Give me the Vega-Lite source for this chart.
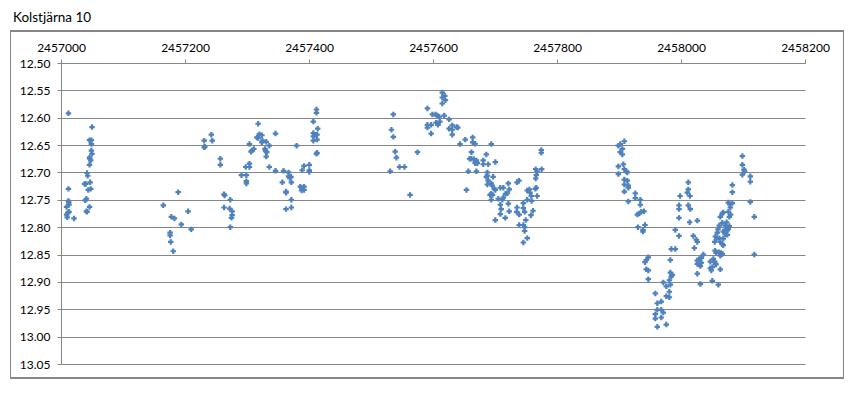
{
  "$schema": "https://vega.github.io/schema/vega-lite/v6.json",
  "width": 744,
  "height": 301,
  "autosize": "none",
  "padding": {"left": 61, "top": 63, "right": 53, "bottom": 31},
  "background": "white",
  "config": {"view": {"stroke": null}, "font": "Lato"},
  "title": {"text": "Kolstjärna 10", "anchor": "start", "frame": "group", "dx": -48, "offset": 6, "fontSize": 13.5, "fontWeight": "normal", "color": "#000000", "font": "Lato"},
  "data": {"values": [
    {"jd":2457012,"mag":12.592},{"jd":2457012,"mag":12.730},{"jd":2457012,"mag":12.752},{"jd":2457012.5,"mag":12.755},{"jd":2457013,"mag":12.759},{"jd":2457009,"mag":12.763},{"jd":2457013,"mag":12.772},{"jd":2457011,"mag":12.774},{"jd":2457009,"mag":12.777},{"jd":2457010,"mag":12.782},{"jd":2457021,"mag":12.784},
    {"jd":2457050,"mag":12.617},{"jd":2457046,"mag":12.641},{"jd":2457049,"mag":12.641},{"jd":2457049,"mag":12.648},{"jd":2457049,"mag":12.660},{"jd":2457050,"mag":12.666},{"jd":2457046,"mag":12.673},{"jd":2457048,"mag":12.678},{"jd":2457046.5,"mag":12.675},{"jd":2457046,"mag":12.686},{"jd":2457042,"mag":12.701},{"jd":2457043,"mag":12.706},{"jd":2457047,"mag":12.718},{"jd":2457038,"mag":12.721},{"jd":2457040,"mag":12.721},{"jd":2457048,"mag":12.730},{"jd":2457044,"mag":12.732},{"jd":2457041,"mag":12.748},{"jd":2457039,"mag":12.751},{"jd":2457046,"mag":12.763},{"jd":2457041,"mag":12.771},{"jd":2457042,"mag":12.772},
    {"jd":2457165,"mag":12.760},{"jd":2457189,"mag":12.736},{"jd":2457178,"mag":12.781},{"jd":2457183,"mag":12.784},{"jd":2457176,"mag":12.810},{"jd":2457176,"mag":12.815},{"jd":2457177,"mag":12.827},{"jd":2457181,"mag":12.844},{"jd":2457194,"mag":12.795},{"jd":2457205,"mag":12.771},{"jd":2457210,"mag":12.804},
    {"jd":2457231,"mag":12.642},{"jd":2457244,"mag":12.642},{"jd":2457242.5,"mag":12.631},{"jd":2457232,"mag":12.653},{"jd":2457231,"mag":12.654},{"jd":2457257,"mag":12.675},{"jd":2457257,"mag":12.686},{"jd":2457263,"mag":12.740},{"jd":2457264,"mag":12.742},{"jd":2457273,"mag":12.750},{"jd":2457263,"mag":12.764},{"jd":2457272,"mag":12.766},{"jd":2457276,"mag":12.771},{"jd":2457276,"mag":12.778},{"jd":2457275,"mag":12.783},{"jd":2457273,"mag":12.800},
    {"jd":2457291,"mag":12.705},{"jd":2457299,"mag":12.705},{"jd":2457299,"mag":12.716},{"jd":2457299,"mag":12.720},{"jd":2457298,"mag":12.690},{"jd":2457304,"mag":12.690},{"jd":2457304,"mag":12.684},{"jd":2457304,"mag":12.648},{"jd":2457306.5,"mag":12.662},{"jd":2457308,"mag":12.660},{"jd":2457311,"mag":12.657},{"jd":2457318,"mag":12.611},{"jd":2457316,"mag":12.636},{"jd":2457320,"mag":12.630},{"jd":2457318,"mag":12.637},{"jd":2457324,"mag":12.632},{"jd":2457325,"mag":12.642},{"jd":2457324,"mag":12.645},{"jd":2457331,"mag":12.644},{"jd":2457329,"mag":12.657},{"jd":2457330,"mag":12.661},{"jd":2457332,"mag":12.663},{"jd":2457331,"mag":12.671},{"jd":2457336,"mag":12.651},{"jd":2457336,"mag":12.690},{"jd":2457346,"mag":12.629},{"jd":2457346,"mag":12.697},{"jd":2457359,"mag":12.697},{"jd":2457357,"mag":12.718},{"jd":2457363,"mag":12.735},{"jd":2457363,"mag":12.737},{"jd":2457363,"mag":12.767},{"jd":2457367,"mag":12.700},{"jd":2457367,"mag":12.707},{"jd":2457369,"mag":12.710},{"jd":2457371,"mag":12.708},{"jd":2457371.5,"mag":12.718},{"jd":2457371.5,"mag":12.750},{"jd":2457371.5,"mag":12.764},{"jd":2457380,"mag":12.651},{"jd":2457386,"mag":12.726},{"jd":2457389,"mag":12.729},{"jd":2457392,"mag":12.732},{"jd":2457388,"mag":12.733},{"jd":2457392,"mag":12.726},{"jd":2457389,"mag":12.696},{"jd":2457392,"mag":12.688},{"jd":2457400.5,"mag":12.686},{"jd":2457400.5,"mag":12.696},{"jd":2457400.5,"mag":12.699},{"jd":2457407,"mag":12.607},{"jd":2457412,"mag":12.585},{"jd":2457412,"mag":12.591},{"jd":2457407,"mag":12.628},{"jd":2457410,"mag":12.631},{"jd":2457413,"mag":12.631},{"jd":2457414,"mag":12.620},{"jd":2457407,"mag":12.634},{"jd":2457407,"mag":12.642},{"jd":2457413,"mag":12.640},{"jd":2457412,"mag":12.666},{"jd":2457413,"mag":12.664},
    {"jd":2457536,"mag":12.594},{"jd":2457533,"mag":12.622},{"jd":2457536,"mag":12.635},{"jd":2457539,"mag":12.662},{"jd":2457541,"mag":12.673},{"jd":2457546,"mag":12.690},{"jd":2457554,"mag":12.690},{"jd":2457531,"mag":12.698},{"jd":2457575,"mag":12.663},{"jd":2457563,"mag":12.741},{"jd":2457591,"mag":12.583},{"jd":2457599,"mag":12.594},{"jd":2457604,"mag":12.594},{"jd":2457607,"mag":12.596},{"jd":2457610,"mag":12.598},{"jd":2457618,"mag":12.596},{"jd":2457615,"mag":12.554},{"jd":2457619,"mag":12.560},{"jd":2457615,"mag":12.563},{"jd":2457620,"mag":12.568},{"jd":2457615,"mag":12.574},{"jd":2457591,"mag":12.613},{"jd":2457591,"mag":12.618},{"jd":2457597,"mag":12.613},{"jd":2457597,"mag":12.629},{"jd":2457605,"mag":12.609},{"jd":2457608,"mag":12.613},{"jd":2457611,"mag":12.607},{"jd":2457626,"mag":12.603},{"jd":2457626,"mag":12.620},{"jd":2457631,"mag":12.614},{"jd":2457631,"mag":12.622},{"jd":2457631,"mag":12.631},{"jd":2457638,"mag":12.617},{"jd":2457640,"mag":12.618},{"jd":2457643.5,"mag":12.648},{"jd":2457652,"mag":12.640},{"jd":2457664,"mag":12.636},{"jd":2457664,"mag":12.645},{"jd":2457662,"mag":12.663},{"jd":2457659,"mag":12.675},{"jd":2457662,"mag":12.675},{"jd":2457666,"mag":12.676},{"jd":2457657,"mag":12.698},{"jd":2457654,"mag":12.732},
    {"jd":2457668,"mag":12.6475},{"jd":2457670,"mag":12.681},{"jd":2457671.5,"mag":12.683},{"jd":2457668,"mag":12.683},{"jd":2457670,"mag":12.678},{"jd":2457681,"mag":12.678},{"jd":2457681,"mag":12.685},{"jd":2457689,"mag":12.685},{"jd":2457686,"mag":12.667},{"jd":2457694,"mag":12.648},{"jd":2457700.5,"mag":12.681},{"jd":2457670,"mag":12.698},{"jd":2457687.6,"mag":12.700},{"jd":2457687.6,"mag":12.706},{"jd":2457686,"mag":12.708},{"jd":2457697,"mag":12.708},{"jd":2457689,"mag":12.715},{"jd":2457687.6,"mag":12.722},{"jd":2457694,"mag":12.720},{"jd":2457695.5,"mag":12.724},{"jd":2457699,"mag":12.730},{"jd":2457694,"mag":12.739},{"jd":2457692,"mag":12.741},{"jd":2457696,"mag":12.741},{"jd":2457694,"mag":12.750},{"jd":2457700.5,"mag":12.732},{"jd":2457708.6,"mag":12.728},{"jd":2457713.5,"mag":12.728},{"jd":2457721.5,"mag":12.720},{"jd":2457723,"mag":12.731},{"jd":2457720,"mag":12.738},{"jd":2457717,"mag":12.739},{"jd":2457713.5,"mag":12.746},{"jd":2457705.3,"mag":12.748},{"jd":2457711.8,"mag":12.750},{"jd":2457708.6,"mag":12.759},{"jd":2457710,"mag":12.767},{"jd":2457721.5,"mag":12.757},{"jd":2457723,"mag":12.771},{"jd":2457708.6,"mag":12.776},{"jd":2457716.6,"mag":12.783},{"jd":2457700.5,"mag":12.787},{"jd":2457735.5,"mag":12.718},{"jd":2457738.7,"mag":12.715},{"jd":2457735.5,"mag":12.764},{"jd":2457735,"mag":12.772},{"jd":2457739,"mag":12.777},{"jd":2457745.7,"mag":12.756},{"jd":2457745.7,"mag":12.765},{"jd":2457747.8,"mag":12.772},{"jd":2457752,"mag":12.733},{"jd":2457755.4,"mag":12.731},{"jd":2457758.6,"mag":12.743},{"jd":2457759,"mag":12.752},{"jd":2457756.5,"mag":12.737},{"jd":2457765,"mag":12.730},{"jd":2457766.6,"mag":12.728},{"jd":2457768,"mag":12.743},{"jd":2457761.3,"mag":12.770},{"jd":2457758,"mag":12.778},{"jd":2457752,"mag":12.750},{"jd":2457739,"mag":12.796},{"jd":2457745.7,"mag":12.796},{"jd":2457749.6,"mag":12.787},{"jd":2457747.8,"mag":12.800},{"jd":2457747.8,"mag":12.807},{"jd":2457752,"mag":12.820},{"jd":2457745.7,"mag":12.828},{"jd":2457765.6,"mag":12.694},{"jd":2457766.6,"mag":12.705},{"jd":2457765.6,"mag":12.711},{"jd":2457768,"mag":12.698},{"jd":2457774.7,"mag":12.659},{"jd":2457774.7,"mag":12.664},{"jd":2457775.3,"mag":12.694},
    {"jd":2457908.6,"mag":12.643},{"jd":2457899,"mag":12.651},{"jd":2457902,"mag":12.648},{"jd":2457905.4,"mag":12.657},{"jd":2457902,"mag":12.663},{"jd":2457905.4,"mag":12.667},{"jd":2457899,"mag":12.689},{"jd":2457907,"mag":12.685},{"jd":2457899,"mag":12.703},{"jd":2457908.6,"mag":12.694},{"jd":2457911.8,"mag":12.698},{"jd":2457913.4,"mag":12.700},{"jd":2457908.6,"mag":12.713},{"jd":2457913.4,"mag":12.715},{"jd":2457908.6,"mag":12.722},{"jd":2457915,"mag":12.724},{"jd":2457915,"mag":12.728},{"jd":2457908.6,"mag":12.735},{"jd":2457915,"mag":12.753},{"jd":2457926.3,"mag":12.738},{"jd":2457926.3,"mag":12.747},{"jd":2457934.4,"mag":12.750},{"jd":2457934.4,"mag":12.759},{"jd":2457929.6,"mag":12.777},{"jd":2457932.8,"mag":12.775},{"jd":2457936,"mag":12.772},{"jd":2457940.3,"mag":12.771},{"jd":2457941.9,"mag":12.796},{"jd":2457930.6,"mag":12.800},{"jd":2457938.7,"mag":12.805},{"jd":2457938.7,"mag":12.808},{"jd":2457947.3,"mag":12.855},{"jd":2457944,"mag":12.860},{"jd":2457941.9,"mag":12.864},{"jd":2457944,"mag":12.877},{"jd":2457947.3,"mag":12.879},{"jd":2457947.3,"mag":12.895},{"jd":2457958.6,"mag":12.921},{"jd":2457961.8,"mag":12.939},{"jd":2457968.2,"mag":12.936},{"jd":2457961.8,"mag":12.951},{"jd":2457968.2,"mag":12.951},{"jd":2457971.5,"mag":12.956},{"jd":2457958.6,"mag":12.959},{"jd":2457958.6,"mag":12.967},{"jd":2457968.2,"mag":12.965},{"jd":2457961.8,"mag":12.982},{"jd":2457976.3,"mag":12.978},{"jd":2457976.3,"mag":12.908},{"jd":2457971.5,"mag":12.901},{"jd":2457976.3,"mag":12.926},{"jd":2457981.2,"mag":12.928},{"jd":2457981.2,"mag":12.918},{"jd":2457982.8,"mag":12.905},{"jd":2457981.2,"mag":12.897},{"jd":2457984.4,"mag":12.890},{"jd":2457986,"mag":12.887},{"jd":2457982.8,"mag":12.883},{"jd":2457982.8,"mag":12.860},{"jd":2457984.4,"mag":12.840},{"jd":2457990.8,"mag":12.840},{"jd":2457990.8,"mag":12.805},{"jd":2457996.8,"mag":12.816},{"jd":2457996.8,"mag":12.783},{"jd":2457996.8,"mag":12.767},{"jd":2457996.8,"mag":12.760},{"jd":2457998.5,"mag":12.743},{"jd":2458011.8,"mag":12.718},{"jd":2458011.8,"mag":12.731},{"jd":2458010.2,"mag":12.737},{"jd":2458014.5,"mag":12.743},{"jd":2458011.8,"mag":12.760},{"jd":2458015,"mag":12.767},{"jd":2458014,"mag":12.791},{"jd":2458019.9,"mag":12.816},{"jd":2458021.5,"mag":12.838},
    {"jd":2458026.3,"mag":12.788},{"jd":2458024.7,"mag":12.823},{"jd":2458026.3,"mag":12.827},{"jd":2458036,"mag":12.850},{"jd":2458032.8,"mag":12.856},{"jd":2458026.3,"mag":12.861},{"jd":2458029.5,"mag":12.858},{"jd":2458026.3,"mag":12.867},{"jd":2458032.8,"mag":12.865},{"jd":2458031.2,"mag":12.871},{"jd":2458026.3,"mag":12.885},{"jd":2458031.2,"mag":12.904},{"jd":2458047.3,"mag":12.863},{"jd":2458050.5,"mag":12.873},{"jd":2458047.3,"mag":12.875},{"jd":2458048.9,"mag":12.879},{"jd":2458052.2,"mag":12.858},{"jd":2458055.4,"mag":12.867},{"jd":2458054.3,"mag":12.863},{"jd":2458056.5,"mag":12.868},{"jd":2458050.5,"mag":12.898},{"jd":2458060.2,"mag":12.905},{"jd":2458063.4,"mag":12.877},{"jd":2458055,"mag":12.843},{"jd":2458056.5,"mag":12.847},{"jd":2458061.3,"mag":12.846},{"jd":2458064.5,"mag":12.847},{"jd":2458063.4,"mag":12.852},{"jd":2458066.6,"mag":12.849},{"jd":2458054.3,"mag":12.827},{"jd":2458057.5,"mag":12.821},{"jd":2458055.4,"mag":12.817},{"jd":2458058.6,"mag":12.810},{"jd":2458061.8,"mag":12.820},{"jd":2458063.4,"mag":12.827},{"jd":2458068.2,"mag":12.821},{"jd":2458066.6,"mag":12.831},{"jd":2458068.2,"mag":12.833},{"jd":2458059.7,"mag":12.804},{"jd":2458068.2,"mag":12.808},{"jd":2458071.5,"mag":12.805},{"jd":2458071.5,"mag":12.813},{"jd":2458074.7,"mag":12.814},{"jd":2458074.7,"mag":12.806},{"jd":2458071.5,"mag":12.797},{"jd":2458073.6,"mag":12.791},{"jd":2458078,"mag":12.798},{"jd":2458076.3,"mag":12.803},{"jd":2458061.8,"mag":12.797},{"jd":2458066.6,"mag":12.792},{"jd":2458063.4,"mag":12.781},{"jd":2458066.6,"mag":12.775},{"jd":2458068.2,"mag":12.773},{"jd":2458076.3,"mag":12.772},{"jd":2458080,"mag":12.777},{"jd":2458078,"mag":12.781},{"jd":2458076.3,"mag":12.755},{"jd":2458078.5,"mag":12.758},{"jd":2458079.6,"mag":12.764},{"jd":2458082.8,"mag":12.756},{"jd":2458082.8,"mag":12.736},{"jd":2458082.8,"mag":12.723},{"jd":2458099,"mag":12.670},{"jd":2458099,"mag":12.686},{"jd":2458101.6,"mag":12.695},{"jd":2458102.6,"mag":12.698},{"jd":2458099,"mag":12.704},{"jd":2458111.8,"mag":12.707},{"jd":2458111.8,"mag":12.717},{"jd":2458111.8,"mag":12.754},{"jd":2458118.2,"mag":12.781},{"jd":2458118.2,"mag":12.850}
  ]},
  "layer": [
    {
      "mark": {"type": "point", "shape": "cross", "filled": true, "size": 30, "color": "#4F81BD", "opacity": 1},
      "encoding": {
        "x": {"field": "jd", "type": "quantitative",
          "scale": {"domain": [2457000, 2458200], "nice": false, "zero": false},
          "axis": {"orient": "top", "title": null, "values": [2457000, 2457200, 2457400, 2457600, 2457800, 2458000, 2458200], "format": "d", "grid": false, "domainColor": "#868686", "tickColor": "#868686", "tickSize": 4, "labelPadding": 5, "labelFontSize": 12, "labelColor": "#000000", "labelFont": "Lato", "labelFlush": false, "labelOverlap": false}},
        "y": {"field": "mag", "type": "quantitative",
          "scale": {"domain": [12.5, 13.05], "reverse": true, "nice": false, "zero": false},
          "axis": {"title": null, "values": [12.5, 12.55, 12.6, 12.65, 12.7, 12.75, 12.8, 12.85, 12.9, 12.95, 13.0, 13.05], "tickCount": 12, "format": ".2f", "grid": true, "gridColor": "#868686", "gridOpacity": 1, "gridWidth": 1, "domainColor": "#868686", "tickColor": "#868686", "tickSize": 4, "labelPadding": 7, "labelFontSize": 12, "labelColor": "#000000", "labelFont": "Lato", "labelOverlap": false}}
      }
    },
    {
      "mark": {"type": "rect", "fill": null, "fillOpacity": 0, "stroke": "#868686", "strokeWidth": 1, "xOffset": -50.5, "x2Offset": 38.5, "yOffset": -32, "y2Offset": 14},
      "encoding": {
        "x": {"datum": 2457000, "type": "quantitative",
          "axis": {"orient": "top", "title": null, "values": [2457000, 2457200, 2457400, 2457600, 2457800, 2458000, 2458200], "format": "d", "grid": false, "domainColor": "#868686", "tickColor": "#868686", "tickSize": 4, "labelPadding": 5, "labelFontSize": 12, "labelColor": "#000000", "labelFont": "Lato", "labelFlush": false, "labelOverlap": false}},
        "x2": {"datum": 2458200},
        "y": {"datum": 12.5, "type": "quantitative",
          "axis": {"title": null, "values": [12.5, 12.55, 12.6, 12.65, 12.7, 12.75, 12.8, 12.85, 12.9, 12.95, 13.0, 13.05], "tickCount": 12, "format": ".2f", "grid": true, "gridColor": "#868686", "gridOpacity": 1, "gridWidth": 1, "domainColor": "#868686", "tickColor": "#868686", "tickSize": 4, "labelPadding": 7, "labelFontSize": 12, "labelColor": "#000000", "labelFont": "Lato", "labelOverlap": false}},
        "y2": {"datum": 13.05}
      }
    }
  ]
}
